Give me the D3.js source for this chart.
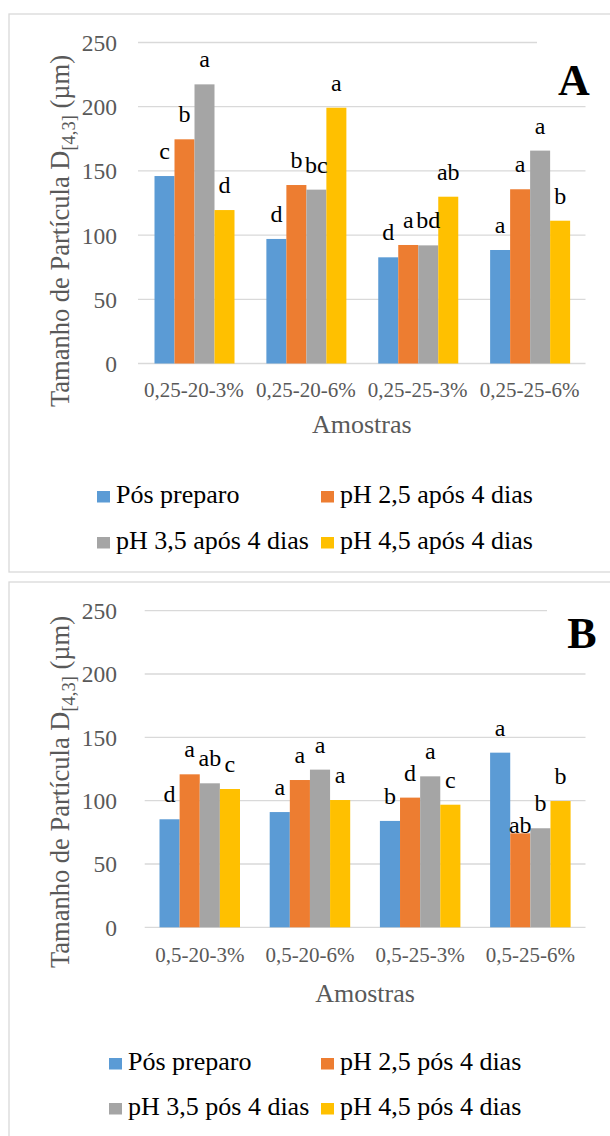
<!DOCTYPE html>
<html><head><meta charset="utf-8">
<script src="https://cdn.jsdelivr.net/npm/d3@7"></script>
<style>
html,body{margin:0;padding:0;background:#fff;}
svg{display:block;}
</style></head>
<body>
<svg id="chart" width="610" height="1136"></svg>
<script>
// ---------- DATA ----------
const yTicks = [0, 50, 100, 150, 200, 250];

const categoriesA = ["0,25-20-3%", "0,25-20-6%", "0,25-25-3%", "0,25-25-6%"];
const seriesA = ["Pós preparo", "pH 2,5 após 4 dias", "pH 3,5 após 4 dias", "pH 4,5 após 4 dias"];
const posPreparoA = [146, 97, 82.7, 88.4];
const ph25A = [174.6, 139, 92.3, 135.7];
const ph35A = [217.4, 135.4, 92, 165.8];
const ph45A = [119.5, 199.2, 129.9, 111.2];
const lettersA = [["c","b","a","d"], ["d","b","bc","a"], ["d","a","bd","ab"], ["a","a","a","b"]];

const categoriesB = ["0,5-20-3%", "0,5-20-6%", "0,5-25-3%", "0,5-25-6%"];
const seriesB = ["Pós preparo", "pH 2,5 pós 4 dias", "pH 3,5 pós 4 dias", "pH 4,5 pós 4 dias"];
const posPreparoB = [85.3, 91, 84, 137.9];
const ph25B = [120.8, 116.3, 102.4, 74.2];
const ph35B = [113.7, 124.5, 119.2, 78.2];
const ph45B = [109.2, 100.5, 96.8, 99.7];
const lettersB = [["d","a","ab","c"], ["a","a","a","a"], ["b","d","a","c"], ["a","ab","b","b"]];

const colors = ["#5B9BD5", "#ED7D31", "#A5A5A5", "#FFC000"];

// ---------- DRAW ----------
const svg = d3.select("#chart");
const FONT = "'Liberation Serif', 'Times New Roman', Tinos, serif";

function drawPanel(cfg) {
  const g = svg.append("g").attr("font-family", FONT);
  g.append("rect").attr("x", cfg.frame[0]).attr("y", cfg.frame[1])
    .attr("width", cfg.frame[2]).attr("height", cfg.frame[3])
    .attr("fill", "#fff").attr("stroke", "#d9d9d9").attr("stroke-width", 1.3);

  const y = d3.scaleLinear().domain([0, 250]).range([cfg.y0, cfg.y1]);
  const x0 = d3.scaleBand().domain(cfg.categories).range([cfg.xL, cfg.xR]).padding(0);
  const x1 = d3.scaleBand().domain(d3.range(4)).range(cfg.inner).padding(0);

  g.selectAll("line.grid").data(yTicks).join("line")
    .attr("x1", cfg.xL).attr("x2", cfg.xR)
    .attr("y1", d => y(d)).attr("y2", d => y(d))
    .attr("stroke", "#d9d9d9").attr("stroke-width", 1.3);

  g.selectAll("text.tick").data(yTicks).join("text")
    .attr("x", 117).attr("y", d => y(d)).attr("dy", "0.36em")
    .attr("text-anchor", "end").attr("font-size", 23.5).attr("fill", "#595959")
    .text(d => d);

  g.append("rect").attr("x", cfg.letterBox[0]).attr("y", cfg.letterBox[1])
    .attr("width", cfg.letterBox[2]).attr("height", cfg.letterBox[3]).attr("fill", "#fff");
  g.append("text").attr("x", cfg.letterPos[0]).attr("y", cfg.letterPos[1])
    .attr("text-anchor", "middle").attr("font-size", 44).attr("font-weight", "bold")
    .attr("fill", "#000").text(cfg.letter);

  const rows = cfg.categories.map((c, i) => ({cat: c, i, vals: cfg.series.map(s => s[i])}));
  const grp = g.selectAll("g.cat").data(rows).join("g")
    .attr("transform", d => `translate(${x0(d.cat)},0)`);
  grp.selectAll("rect").data(d => d.vals.map((v, k) => ({v, k}))).join("rect")
    .attr("x", d => x1(d.k)).attr("width", x1.bandwidth())
    .attr("y", d => y(d.v)).attr("height", d => y(0) - y(d.v))
    .attr("fill", d => colors[d.k]);
  grp.selectAll("text").data(d => d.vals.map((v, k) => ({v, k, lab: cfg.letters[d.i][k], ci: d.i}))).join("text")
    .attr("x", d => x1(d.k) + x1.bandwidth() / 2)
    .attr("y", d => y(d.v) - 17 + ((cfg.labelShift[d.ci + "-" + d.k]) || 0))
    .attr("text-anchor", "middle").attr("font-size", 24).attr("fill", "#000")
    .text(d => d.lab);

  g.selectAll("text.cat").data(cfg.categories).join("text")
    .attr("x", d => x0(d) + x0.bandwidth() / 2).attr("y", cfg.catY)
    .attr("text-anchor", "middle").attr("font-size", 21).attr("fill", "#595959")
    .text(d => d);

  g.append("text").attr("x", (cfg.xL + cfg.xR) / 2).attr("y", cfg.xTitleY)
    .attr("text-anchor", "middle").attr("font-size", 26).attr("fill", "#595959")
    .text("Amostras");

  const yt = g.append("text")
    .attr("transform", `translate(69,${cfg.yTitleStart}) rotate(-90)`)
    .attr("text-anchor", "start").attr("font-size", 26.5).attr("fill", "#595959");
  yt.append("tspan").text("Tamanho de Partícula D");
  yt.append("tspan").attr("font-size", 18.5).attr("dy", 6).text("[4,3]");
  yt.append("tspan").attr("dy", -6).text(" (µm)");

  const lg = g.selectAll("g.leg").data(cfg.seriesNames).join("g")
    .attr("transform", (d, i) => `translate(${cfg.legCols[i % 2]},${cfg.legRows[Math.floor(i / 2)]})`);
  lg.append("rect").attr("x", 0).attr("y", -12).attr("width", 13).attr("height", 11.5)
    .attr("fill", (d, i) => colors[i]);
  lg.append("text").attr("x", 19).attr("y", 0).attr("font-size", 26).attr("fill", "#000")
    .text(d => d);
}

drawPanel({
  frame: [9, 14, 640, 558],
  categories: categoriesA, series: [posPreparoA, ph25A, ph35A, ph45A], seriesNames: seriesA,
  letters: lettersA, labelShift: {},
  y0: 363.5, y1: 42.5, xL: 138, xR: 585.5, inner: [16.5, 96.5],
  letter: "A", letterPos: [574, 95], letterBox: [537, 36, 60, 14],
  catY: 397, xTitleY: 433, yTitleStart: 407,
  legCols: [97, 321], legRows: [503, 549]
});

drawPanel({
  frame: [9, 582, 640, 600],
  categories: categoriesB, series: [posPreparoB, ph25B, ph35B, ph45B], seriesNames: seriesB,
  letters: lettersB, labelShift: {"3-1": 17},
  y0: 927.3, y1: 610.7, xL: 144.7, xR: 585.5, inner: [14.8, 95.3],
  letter: "B", letterPos: [582, 648], letterBox: [547, 604, 60, 14],
  catY: 962, xTitleY: 1002, yTitleStart: 968,
  legCols: [109, 321], legRows: [1070, 1115]
});
</script>
</body></html>
